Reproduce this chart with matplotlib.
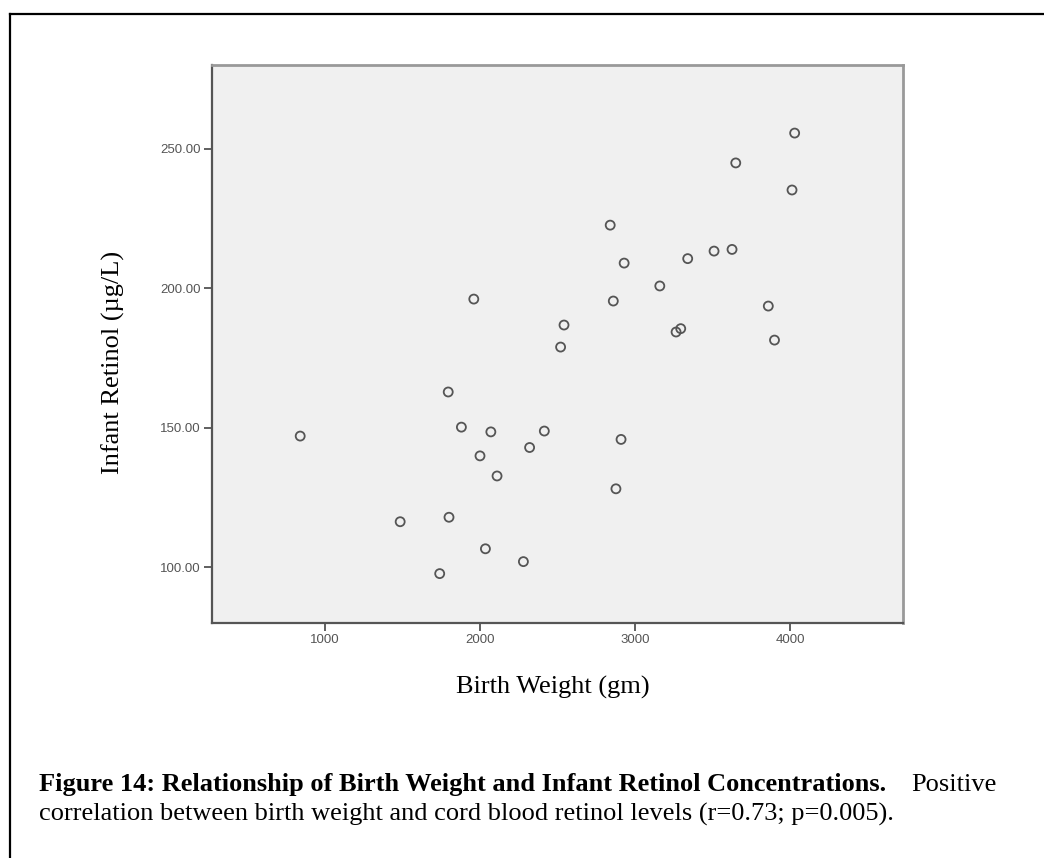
## plot.py
# Birth weight vs infant (cord blood) retinol scatter, SPSS style
import numpy as np
import matplotlib
matplotlib.use('Agg')
import matplotlib.pyplot as plt
from matplotlib.lines import Line2D

# Data
birth_weight = [840, 1485, 1740, 1795, 1800, 1880, 1960, 2000, 2035, 2070,
                2110, 2280, 2320, 2415, 2520, 2542, 2840, 2860, 2877, 2910,
                2930, 3160, 3265, 3295, 3340, 3510, 3626, 3650, 3860, 3900,
                4013, 4030]
infant_retinol = [147.0, 116.3, 97.7, 162.8, 117.9, 150.2, 196.1, 139.9, 106.6, 148.5,
                  132.7, 102.0, 142.9, 148.8, 178.9, 186.8, 222.6, 195.4, 128.1, 145.8,
                  209.0, 200.8, 184.3, 185.5, 210.6, 213.3, 213.9, 244.9, 193.6, 181.4,
                  235.2, 255.6]

x_ticks = [1000, 2000, 3000, 4000]
y_ticks = [100, 150, 200, 250]

serif = 'Liberation Serif'

fig = plt.figure(figsize=(10.44, 8.58), dpi=100)

# outer frame of the figure box (left and top edges only visible)
fig.add_artist(Line2D([10/1044, 10/1044], [0, 1 - 14/858], transform=fig.transFigure,
                      color='black', lw=1.6))
fig.add_artist(Line2D([10/1044, 1], [1 - 14/858, 1 - 14/858], transform=fig.transFigure,
                      color='black', lw=1.6))

ax = fig.add_axes([212/1044, 1 - 623/858, 691/1044, 558/858])
ax.set_facecolor('#f0f0f0')
ax.scatter(birth_weight, infant_retinol, s=42, facecolors='none',
           edgecolors='#555555', linewidths=1.3, zorder=3)

ax.set_xlim(271, 4729)
ax.set_ylim(80, 280)
ax.set_xticks(x_ticks)
ax.set_xticklabels([str(t) for t in x_ticks])
ax.set_yticks(y_ticks)
ax.set_yticklabels(['{:.2f}'.format(t) for t in y_ticks])

ax.tick_params(axis='both', direction='out', length=6, width=1.2, color='#444444',
               labelsize=9.5, labelcolor='#555555', pad=2)
for lab in ax.get_xticklabels() + ax.get_yticklabels():
    lab.set_family('Liberation Sans')

ax.spines['left'].set_color('#555555')
ax.spines['bottom'].set_color('#555555')
ax.spines['left'].set_linewidth(1.6)
ax.spines['bottom'].set_linewidth(1.6)
ax.spines['top'].set_color('#999999')
ax.spines['right'].set_color('#999999')
ax.spines['top'].set_linewidth(2)
ax.spines['right'].set_linewidth(2)

# Axis titles (placed as in the source figure)
fig.text(553/1044, 1 - 687/858, 'Birth Weight (gm)', family=serif, fontsize=19,
         ha='center', va='center')
fig.text(113/1044, 1 - 362/858, 'Infant Retinol (\u00b5g/L)', family=serif, fontsize=19,
         rotation=90, ha='center', va='center')

# Caption
fig.text(39/1044, 1 - 791/858,
         'Figure 14: Relationship of Birth Weight and Infant Retinol Concentrations.',
         family=serif, fontsize=19, fontweight='bold', ha='left', va='baseline')
fig.text(911/1044, 1 - 791/858, 'Positive', family=serif, fontsize=19,
         ha='left', va='baseline')
fig.text(39/1044, 1 - 821/858,
         'correlation between birth weight and cord blood retinol levels (r=0.73; p=0.005).',
         family=serif, fontsize=19, ha='left', va='baseline')

fig.savefig('out.png', dpi=100)
